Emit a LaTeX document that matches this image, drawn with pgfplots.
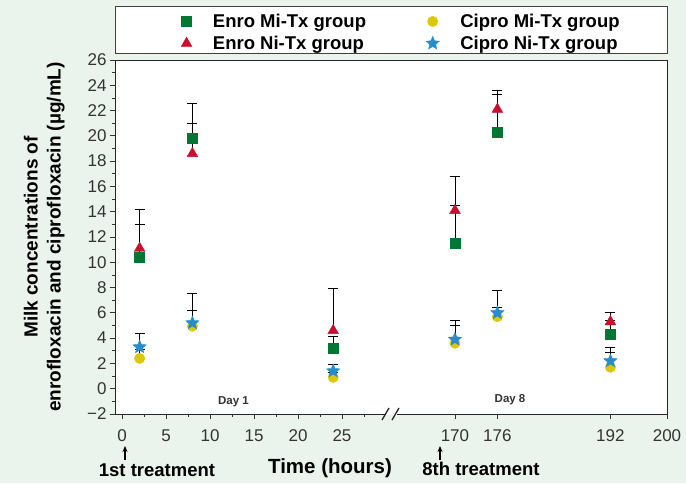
\documentclass[border=0pt]{standalone}
\usepackage{fontspec}
\setmainfont{Liberation Sans}
\usepackage{pgfplots}
\pgfplotsset{compat=1.18}
\usetikzlibrary{arrows.meta}
\definecolor{bgc}{RGB}{234,243,236}
\definecolor{cgreen}{RGB}{0,120,52}
\definecolor{cred}{RGB}{200,16,46}
\definecolor{cyellow}{RGB}{220,200,0}
\definecolor{cblue}{RGB}{38,140,205}
\pgfdeclareplotmark{fstar}{%
  \pgfpathmoveto{\pgfpointpolar{90}{\pgfplotmarksize}}%
  \pgfpathlineto{\pgfpointpolar{126}{0.45\pgfplotmarksize}}%
  \pgfpathlineto{\pgfpointpolar{162}{\pgfplotmarksize}}%
  \pgfpathlineto{\pgfpointpolar{198}{0.45\pgfplotmarksize}}%
  \pgfpathlineto{\pgfpointpolar{234}{\pgfplotmarksize}}%
  \pgfpathlineto{\pgfpointpolar{270}{0.45\pgfplotmarksize}}%
  \pgfpathlineto{\pgfpointpolar{306}{\pgfplotmarksize}}%
  \pgfpathlineto{\pgfpointpolar{342}{0.45\pgfplotmarksize}}%
  \pgfpathlineto{\pgfpointpolar{18}{\pgfplotmarksize}}%
  \pgfpathlineto{\pgfpointpolar{54}{0.45\pgfplotmarksize}}%
  \pgfpathclose
  \pgfusepathqfillstroke
}
\begin{document}
\begin{tikzpicture}[x=1pt,y=1pt]
\fill[bgc] (0,0) rectangle (686,483);
\filldraw[fill=white, draw=black!75, line width=0.9pt] (115,430) rectangle (667,477);
% x positions: hours 0-25 plotted as is; 170,176,192,200 plotted at 37.84,42.66,55.51,61.94 (broken axis)
\begin{axis}[
  at={(115pt,69pt)}, anchor=south west,
  scale only axis, width=552pt, height=354pt,
  xmin=-0.8, xmax=61.94, ymin=-2, ymax=26,
  axis background/.style={fill=white},
  axis line style={black!85, line width=0.9pt},
  tick style={black!80, line width=0.8pt},
  tick align=outside,
  xtick pos=left, ytick pos=left,
  major tick length=5pt, minor tick length=3pt,
  xtick={0,5,10,15,20,25,37.84,42.66,55.51,61.94},
  xticklabels={0,5,10,15,20,25,170,176,192,200},
  minor xtick={2.5,7.5,12.5,17.5,22.5,27.5},
  ytick={-2,0,2,4,6,8,10,12,14,16,18,20,22,24,26},
  yticklabels={−2,0,2,4,6,8,10,12,14,16,18,20,22,24,26},
  minor ytick={-1,1,3,5,7,9,11,13,15,17,19,21,23,25},
  tick label style={font=\fontsize{17}{20}\selectfont, text=black!80},
  xticklabel style={yshift=-7pt},
  ylabel={Milk concentrations of\\enrofloxacin and ciprofloxacin (µg/mL)},
  every axis y label/.style={at={(axis description cs:-0.085,0.5)}, rotate=90, anchor=south, align=center, font=\bfseries\fontsize{19}{23}\selectfont},
  legend columns=2,
  legend cell align=left,
  legend style={draw=none, fill=none, at={(0,1)}, anchor=south west, xshift=63pt, yshift=5pt,
    font=\bfseries\fontsize{18.5}{21}\selectfont, row sep=3pt,
    /tikz/every odd column/.append style={column sep=19pt},
    /tikz/every even column/.append style={column sep=58pt}},
  error bars/y dir=plus, error bars/y explicit,
  error bars/error bar style={black, line width=0.9pt},
  error bars/error mark options={rotate=90, black, mark size=5pt, line width=0.9pt},
]
\addlegendimage{only marks, mark=square*, mark size=5pt, color=cgreen}
\addlegendentry{Enro Mi-Tx group}
\addlegendimage{only marks, mark=*, mark size=5.2pt, color=cyellow}
\addlegendentry{Cipro Mi-Tx group}
\addlegendimage{only marks, mark=triangle*, mark size=6.2pt, color=cred}
\addlegendentry{Enro Ni-Tx group}
\addlegendimage{only marks, mark=fstar, mark size=7pt, color=cblue}
\addlegendentry{Cipro Ni-Tx group}
% Enro Ni-Tx
\addplot[forget plot, only marks, mark=triangle*, mark size=6.2pt, color=cred] coordinates {
 (2,11.1) +- (0,3.1) (8,18.6) +- (0,2.4) (24,4.6) +- (0,3.3)
 (37.84,14.1) +- (0,2.7) (42.66,22.1) +- (0,1.5) (55.51,5.3) +- (0,0.7)};
% Enro Mi-Tx
\addplot[forget plot, only marks, mark=square*, mark size=5pt, color=cgreen] coordinates {
 (2,10.4) +- (0,2.6) (8,19.8) +- (0,2.8) (24,3.2) +- (0,0.9)
 (37.84,11.5) +- (0,3.0) (42.66,20.3) +- (0,3.0) (55.51,4.3) +- (0,1.1)};
% Cipro Mi-Tx
\addplot[forget plot, only marks, mark=*, mark size=5.2pt, color=cyellow] coordinates {
 (2,2.4) +- (0,0.7) (8,4.95) +- (0,1.25) (24,0.9) +- (0,0.4)
 (37.84,3.6) +- (0,1.4) (42.66,5.7) +- (0,0.7) (55.51,1.7) +- (0,1.2)};
% Cipro Ni-Tx
\addplot[forget plot, only marks, mark=fstar, mark size=7pt, color=cblue] coordinates {
 (2,3.3) +- (0,1.1) (8,5.2) +- (0,2.3) (24,1.4) +- (0,0.5)
 (37.84,3.9) +- (0,1.5) (42.66,6.0) +- (0,1.8) (55.51,2.2) +- (0,1.1)};
\node[font=\bfseries\fontsize{11.5}{13}\selectfont, text=black!80] at (axis cs:12.67,-1.06) {Day 1};
\node[font=\bfseries\fontsize{11.5}{13}\selectfont, text=black!80] at (axis cs:44.1,-0.9) {Day 8};
\end{axis}
\fill[white] (385,68.3) rectangle (397,69.7);
\draw[black!85, line width=1.3pt] (382,63) -- (389,75);
\draw[black!85, line width=1.3pt] (392,63) -- (399,75);
\draw[-{Stealth[length=6pt,width=5pt]}, line width=1.2pt] (125,23) -- (125,37);
\draw[-{Stealth[length=6pt,width=5pt]}, line width=1.2pt] (440,23) -- (440,37);
\node[font=\bfseries\fontsize{20.5}{24}\selectfont] at (330,15) {Time (hours)};
\node[font=\bfseries\fontsize{18.5}{22}\selectfont] at (157,13) {1st treatment};
\node[font=\bfseries\fontsize{18.5}{22}\selectfont] at (481,14) {8th treatment};
\end{tikzpicture}
\end{document}
